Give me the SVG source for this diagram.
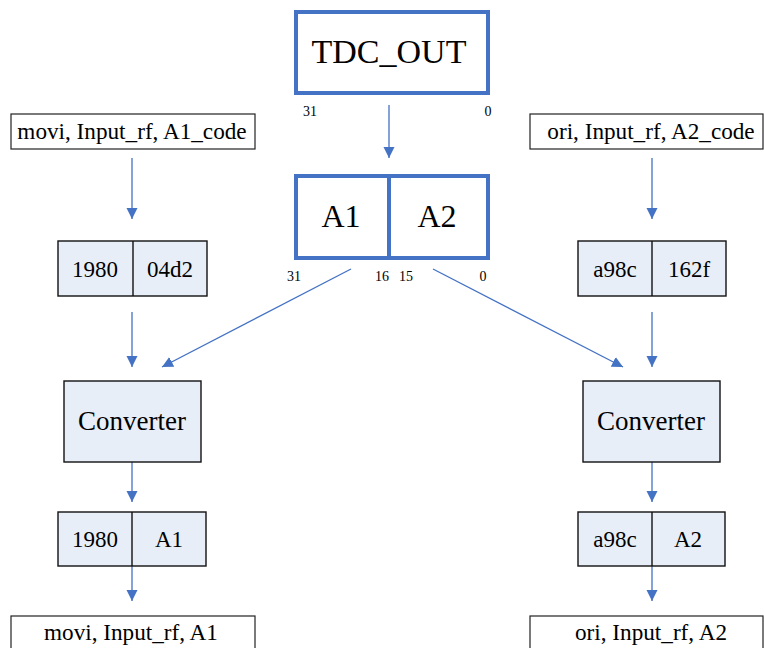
<svg xmlns="http://www.w3.org/2000/svg" width="764" height="648" viewBox="0 0 764 648">
  <defs>
    <marker id="arrow" markerUnits="userSpaceOnUse" markerWidth="12" markerHeight="12" viewBox="0 0 12 12" refX="11" refY="6" orient="auto">
      <path d="M0,0.5 L11,6 L0,11.5 Z" fill="#4472C4"/>
    </marker>
    <style>
      text { fill: #000; text-anchor: middle; }
      .reg { fill: #fff; stroke: #4472C4; stroke-width: 4; }
      .io { fill: #fff; stroke: #222; stroke-width: 1.2; }
      .cell { fill: #E8EEF8; stroke: #111; stroke-width: 1.4; }
      .conn { stroke: #4472C4; stroke-width: 1.3; fill: none; marker-end: url(#arrow); }
      .big { font-size: 34px; }
      .mid { font-size: 32px; }
      .io-t { font-size: 23.2px; }
      .cell-t { font-size: 23px; }
      .conv-t { font-size: 27px; }
      .bit { font-size: 14px; }
    </style>
  </defs>

  <rect width="764" height="648" fill="#fff"/>

  <!-- connectors -->
  <g id="connectors">
    <line class="conn" x1="389" y1="105" x2="389" y2="158"/>
    <line class="conn" x1="351" y1="269" x2="162" y2="367"/>
    <line class="conn" x1="433" y1="269" x2="623" y2="367"/>
    <line class="conn" x1="132" y1="158" x2="132" y2="219"/>
    <line class="conn" x1="652" y1="158" x2="652" y2="219"/>
    <line class="conn" x1="132" y1="312" x2="132" y2="367"/>
    <line class="conn" x1="652" y1="312" x2="652" y2="367"/>
    <line class="conn" x1="132" y1="462" x2="132" y2="502"/>
    <line class="conn" x1="652" y1="462" x2="652" y2="502"/>
    <line class="conn" x1="132" y1="566" x2="132" y2="601"/>
    <line class="conn" x1="652" y1="566" x2="652" y2="601"/>
  </g>

  <g font-family="'Liberation Serif', 'Times New Roman', 'DejaVu Serif', serif">
  <!-- 32-bit output register -->
  <g id="tdc_out">
    <rect class="reg" x="296" y="12" width="192" height="81"/>
    <text class="big" x="389" y="63">TDC_OUT</text>
    <text class="bit" x="310" y="116">31</text>
    <text class="bit" x="488" y="116">0</text>
  </g>

  <!-- register split into two halves -->
  <g id="split">
    <rect class="reg" x="296" y="176" width="192" height="82"/>
    <line x1="389" y1="176" x2="389" y2="258" stroke="#4472C4" stroke-width="4"/>
    <text class="mid" x="341" y="227">A1</text>
    <text class="mid" x="437" y="227">A2</text>
    <text class="bit" x="294" y="281">31</text>
    <text class="bit" x="382" y="281">16</text>
    <text class="bit" x="406" y="281">15</text>
    <text class="bit" x="483" y="281">0</text>
  </g>

  <!-- left chain -->
  <g id="in_left">
    <rect class="io" x="11" y="114" width="244" height="35"/>
    <text class="io-t" x="132" y="139">movi, Input_rf, A1_code</text>
  </g>
  <g id="code_left">
    <rect class="cell" x="58" y="241" width="149" height="55"/>
    <line x1="133" y1="241" x2="133" y2="296" stroke="#111" stroke-width="1.4"/>
    <text class="cell-t" x="95" y="277">1980</text>
    <text class="cell-t" x="170" y="277">04d2</text>
  </g>
  <g id="conv_left">
    <rect class="cell" x="64" y="381" width="137" height="81"/>
    <text class="conv-t" x="132" y="430">Converter</text>
  </g>
  <g id="result_left">
    <rect class="cell" x="58" y="512" width="148" height="54"/>
    <line x1="132" y1="512" x2="132" y2="566" stroke="#111" stroke-width="1.4"/>
    <text class="cell-t" x="95" y="547">1980</text>
    <text class="cell-t" x="169" y="547">A1</text>
  </g>
  <g id="out_left">
    <rect class="io" x="11" y="616" width="244" height="40"/>
    <text class="io-t" x="131" y="640">movi, Input_rf, A1</text>
  </g>

  <!-- right chain -->
  <g id="in_right">
    <rect class="io" x="530" y="114" width="233" height="35"/>
    <text class="io-t" x="651" y="139">ori, Input_rf, A2_code</text>
  </g>
  <g id="code_right">
    <rect class="cell" x="578" y="241" width="148" height="55"/>
    <line x1="652" y1="241" x2="652" y2="296" stroke="#111" stroke-width="1.4"/>
    <text class="cell-t" x="615" y="277">a98c</text>
    <text class="cell-t" x="689" y="277">162f</text>
  </g>
  <g id="conv_right">
    <rect class="cell" x="583" y="381" width="137" height="81"/>
    <text class="conv-t" x="651" y="430">Converter</text>
  </g>
  <g id="result_right">
    <rect class="cell" x="578" y="512" width="147" height="54"/>
    <line x1="652" y1="512" x2="652" y2="566" stroke="#111" stroke-width="1.4"/>
    <text class="cell-t" x="615" y="547">a98c</text>
    <text class="cell-t" x="688" y="547">A2</text>
  </g>
  <g id="out_right">
    <rect class="io" x="530" y="616" width="233" height="40"/>
    <text class="io-t" x="651" y="640">ori, Input_rf, A2</text>
  </g>
  </g>
</svg>
